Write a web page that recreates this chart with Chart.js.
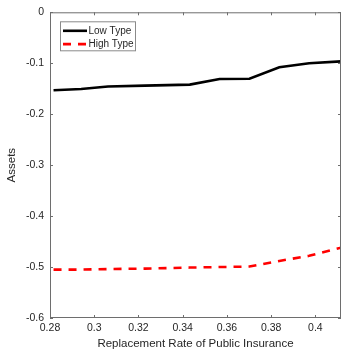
<!DOCTYPE html>
<html lang="en">
  <head>
    <meta charset="UTF-8" />
    <title>Assets vs Replacement Rate</title>
    <script src="https://cdn.jsdelivr.net/npm/chart.js"></script>
    <style>
      html, body { margin: 0; padding: 0; background: #fff; }
      #wrap { width: 342px; height: 355px; }
    </style>
  </head>
  <body>
    <div id="wrap"><canvas id="chart"></canvas></div>
    <script>
      // values
      const rates = [0.2816, 0.2941, 0.3062, 0.3229, 0.3432, 0.3567, 0.3702, 0.3837, 0.3972, 0.4116];
      const lowType = [-0.153, -0.1505, -0.1455, -0.144, -0.142, -0.131, -0.1305, -0.108, -0.100, -0.0963];
      const highType = [-0.505, -0.505, -0.504, -0.503, -0.501, -0.500, -0.499, -0.488, -0.478, -0.462];
      const xTicks = [0.28, 0.3, 0.32, 0.34, 0.36, 0.38, 0.4];
      const yTicks = [-0.6, -0.5, -0.4, -0.3, -0.2, -0.1, 0];

      const ink = "#262626";
      const axisGray = "#6e6e6e";
      const fmt = (v) => String(+v.toFixed(2));

      // MATLAB style box with inward ticks
      const boxPlugin = {
        id: "box",
        afterDraw(chart) {
          const { ctx, chartArea: a, scales } = chart;
          ctx.save();
          ctx.strokeStyle = axisGray;
          ctx.lineWidth = 1;
          ctx.strokeRect(a.left + 0.5, a.top + 0.5, a.right - a.left - 1, a.bottom - a.top - 1);
          ctx.beginPath();
          xTicks.forEach((t) => {
            const px = Math.round(scales.x.getPixelForValue(t)) + 0.5;
            ctx.moveTo(px, a.bottom); ctx.lineTo(px, a.bottom - 3);
            ctx.moveTo(px, a.top); ctx.lineTo(px, a.top + 3);
          });
          yTicks.forEach((t) => {
            const py = Math.round(scales.y.getPixelForValue(t)) + 0.5;
            ctx.moveTo(a.left, py); ctx.lineTo(a.left + 3, py);
            ctx.moveTo(a.right, py); ctx.lineTo(a.right - 3, py);
          });
          ctx.stroke();
          ctx.restore();
        },
      };

      const legendPlugin = {
        id: "boxLegend",
        afterDraw(chart) {
          const { ctx, chartArea: a } = chart;
          const x0 = a.left + 10, y0 = a.top + 9;
          ctx.save();
          ctx.fillStyle = "#fff";
          ctx.fillRect(x0, y0, 75, 29);
          ctx.strokeStyle = "#8a8a8a";
          ctx.lineWidth = 1;
          ctx.strokeRect(x0 + 0.5, y0 + 0.5, 75, 29);
          chart.data.datasets.forEach((ds, i) => {
            const y = y0 + 9.5 + i * 13.3;
            ctx.beginPath();
            ctx.strokeStyle = ds.borderColor;
            ctx.lineWidth = ds.borderWidth;
            ctx.setLineDash(ds.borderDash || []);
            ctx.moveTo(x0 + 3, y);
            ctx.lineTo(x0 + 27, y);
            ctx.stroke();
            ctx.setLineDash([]);
            ctx.fillStyle = ink;
            ctx.font = "10px 'Liberation Sans', Arial, sans-serif";
            ctx.textBaseline = "middle";
            ctx.fillText(ds.label, x0 + 28.5, y);
          });
          ctx.restore();
        },
      };

      new Chart(document.getElementById("chart"), {
        type: "line",
        data: {
          datasets: [
            {
              label: "Low Type",
              data: rates.map((r, i) => ({ x: r, y: lowType[i] })),
              borderColor: "#000000",
              borderWidth: 2.6,
              pointRadius: 0,
              tension: 0,
            },
            {
              label: "High Type",
              data: rates.map((r, i) => ({ x: r, y: highType[i] })),
              borderColor: "#ff0000",
              borderWidth: 2.6,
              borderDash: [8, 7],
              pointRadius: 0,
              tension: 0,
            },
          ],
        },
        options: {
          responsive: true,
          maintainAspectRatio: false,
          animation: false,
          layout: { padding: { top: 10, right: 1, left: 0, bottom: 0 } },
          plugins: { legend: { display: false }, tooltip: { enabled: false } },
          scales: {
            x: {
              type: "linear",
              min: 0.28,
              max: 0.4116,
              afterBuildTicks: (s) => { s.ticks = xTicks.map((v) => ({ value: v })); },
              afterFit: (s) => { s.height = 37; },
              grid: { display: false, drawTicks: false },
              border: { display: false },
              ticks: {
                color: ink,
                padding: 4,
                maxRotation: 0,
                font: { family: "'Liberation Sans', Arial, sans-serif", size: 10.5 },
                callback: (v) => fmt(v),
              },
              title: {
                display: true,
                text: "Replacement Rate of Public Insurance",
                color: ink,
                padding: { top: 2, bottom: 4 },
                font: { family: "'Liberation Sans', Arial, sans-serif", size: 11.5 },
              },
            },
            y: {
              min: -0.6,
              max: 0,
              afterBuildTicks: (s) => { s.ticks = yTicks.map((v) => ({ value: v })); },
              afterFit: (s) => { s.width = 50; },
              grid: { display: false, drawTicks: false },
              border: { display: false },
              ticks: {
                color: ink,
                padding: 6,
                font: { family: "'Liberation Sans', Arial, sans-serif", size: 10.5 },
                callback: (v) => fmt(v),
              },
              title: {
                display: true,
                text: "Assets",
                color: ink,
                padding: { top: 5, bottom: 2 },
                font: { family: "'Liberation Sans', Arial, sans-serif", size: 11.5 },
              },
            },
          },
        },
        plugins: [boxPlugin, legendPlugin],
      });
    </script>
  </body>
</html>
